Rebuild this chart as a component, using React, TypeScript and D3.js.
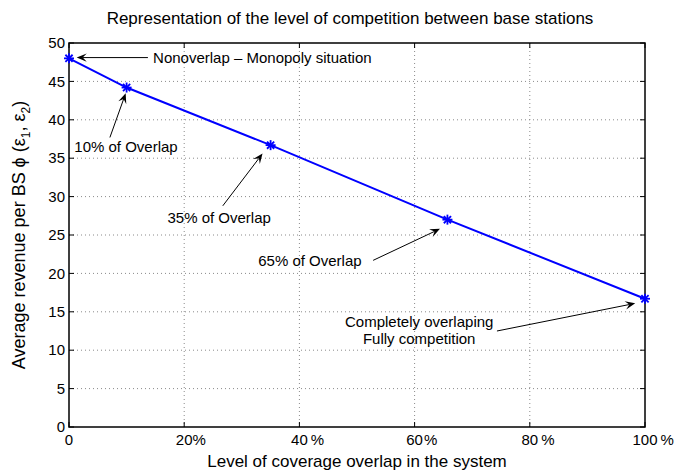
import React from "react";
import * as d3 from "d3";

// ---- data ----
const overlapPct = [0, 10, 35, 65.7, 100];
const revenue = [48, 44.2, 36.7, 27.0, 16.7];

const xTicks = [0, 20, 40, 60, 80, 100];
const xTickGap = [0, 0, 3, 1, 3, 3]; // gap before "%" as seen in the reference
const yTicks = [0, 5, 10, 15, 20, 25, 30, 35, 40, 45, 50];

const titleText = "Representation of the level of competition between base stations";
const xLabelText = "Level of coverage overlap in the system";

// annotation texts (data coords)
const annoTexts = ["Nonoverlap \u2013 Monopoly situation", "10% of Overlap", "35% of Overlap", "65% of Overlap", "Completely overlaping", "Fully competition"];
const annoTextX = [14.6, 0.92, 17.1, 50.8, 60.8, 60.8];
const annoTextY = [48.1, 36.5, 27.3, 21.6, 13.7, 11.55];
const annoAnchor = ["start", "start", "start", "end", "middle", "middle"];

// arrows: tail -> head (data coords)
const arrowTailX = [13.7, 7.1, 26.7, 52.8, 74.3];
const arrowTailY = [48.1, 37.7, 28.8, 21.7, 12.5];
const arrowHeadX = [1.34, 9.84, 33.6, 64.4, 98.3];
const arrowHeadY = [48.1, 43.45, 35.6, 25.8, 16.1];

const W = 676;
const H = 471;
const L = 69, R = 645, T = 43, B = 427;
const FS = 15;
const FONT = "'Liberation Sans', Arial, Helvetica, sans-serif";

export default function App() {
  const x = d3.scaleLinear().domain([0, 100]).range([L, R]);
  const y = d3.scaleLinear().domain([0, 50]).range([B, T]);
  const line = d3.line<number>().x((_, i) => x(overlapPct[i])).y((d) => y(d));

  const arrowHead = (i: number) => {
    const x1 = x(arrowTailX[i]), y1 = y(arrowTailY[i]);
    const x2 = x(arrowHeadX[i]), y2 = y(arrowHeadY[i]);
    const ang = Math.atan2(y2 - y1, x2 - x1);
    const len = 10, hw = 4.2, notch = 6;
    const ca = Math.cos(ang), sa = Math.sin(ang);
    const pt = (a: number, b: number) => [x2 + a * ca - b * sa, y2 + a * sa + b * ca];
    const p1 = pt(-len, hw), p2 = pt(-notch, 0), p3 = pt(-len, -hw);
    return {
      line: [x1, y1, x2 - notch * ca, y2 - notch * sa],
      head: `M${x2},${y2}L${p1[0]},${p1[1]}L${p2[0]},${p2[1]}L${p3[0]},${p3[1]}Z`,
    };
  };

  return (
    <svg width={W} height={H} style={{ display: "block", position: "absolute", left: 0, top: 0, background: "#fff" }} fontFamily={FONT}>
      <rect x={0} y={0} width={W} height={H} fill="#fff" />
      {/* grid */}
      {xTicks.slice(1, -1).map((t) => (
        <line key={"gx" + t} x1={x(t)} x2={x(t)} y1={T} y2={B} stroke="#8a8a8a" strokeWidth={1} strokeDasharray="1,3" />
      ))}
      {yTicks.slice(1, -1).map((t) => (
        <line key={"gy" + t} x1={L} x2={R} y1={y(t)} y2={y(t)} stroke="#8a8a8a" strokeWidth={1} strokeDasharray="1,3" />
      ))}
      {/* ticks */}
      {xTicks.map((t) => (
        <g key={"tx" + t}>
          <line x1={x(t)} x2={x(t)} y1={B} y2={B - 5} stroke="#000" />
          <line x1={x(t)} x2={x(t)} y1={T} y2={T + 5} stroke="#000" />
        </g>
      ))}
      {yTicks.map((t) => (
        <g key={"ty" + t}>
          <line x1={L} x2={L + 5} y1={y(t)} y2={y(t)} stroke="#000" />
          <line x1={R} x2={R - 5} y1={y(t)} y2={y(t)} stroke="#000" />
        </g>
      ))}
      {/* box */}
      <rect x={L} y={T} width={R - L} height={B - T} fill="none" stroke="#000" strokeWidth={1.5} />
      {/* tick labels */}
      {yTicks.map((t) => (
        <text key={"ly" + t} x={L - 4} y={y(t)} dy="0.35em" textAnchor="end" fontSize={FS}>{t}</text>
      ))}
      {xTicks.map((t, i) => {
        const s = String(t);
        const nw = s.length * 0.556 * FS;
        const x0 = x(t) - nw / 2;
        return (
          <text key={"lx" + t} x={x0} y={B + 18} fontSize={FS}>
            {s}
            {t > 0 ? <tspan dx={xTickGap[i]}>%</tspan> : null}
          </text>
        );
      })}
      {/* data line */}
      <path d={line(revenue) || ""} fill="none" stroke="#0000ff" strokeWidth={2} />
      {revenue.map((v, i) => {
        const cx = x(overlapPct[i]), cy = y(v), r = 5, d = r * 0.72;
        return (
          <g key={"m" + i} stroke="#0000ff" strokeWidth={1.8}>
            <line x1={cx - r} x2={cx + r} y1={cy} y2={cy} />
            <line x1={cx} x2={cx} y1={cy - r} y2={cy + r} />
            <line x1={cx - d} x2={cx + d} y1={cy - d} y2={cy + d} />
            <line x1={cx - d} x2={cx + d} y1={cy + d} y2={cy - d} />
          </g>
        );
      })}
      {/* annotations */}
      {arrowTailX.map((_, i) => {
        const a = arrowHead(i);
        return (
          <g key={"ar" + i}>
            <line x1={a.line[0]} y1={a.line[1]} x2={a.line[2]} y2={a.line[3]} stroke="#000" strokeWidth={1} />
            <path d={a.head} fill="#000" />
          </g>
        );
      })}
      {annoTexts.map((s, i) => (
        <text key={"at" + i} x={x(annoTextX[i])} y={y(annoTextY[i])} dy="0.35em" textAnchor={annoAnchor[i] as any} fontSize={FS}>{s}</text>
      ))}
      {/* title & labels */}
      <text x={350} y={24} textAnchor="middle" fontSize={17}>{titleText}</text>
      <text x={(L + R) / 2} y={467} textAnchor="middle" fontSize={17}>{xLabelText}</text>
      <text transform={`translate(25,${(T + B) / 2}) rotate(-90)`} textAnchor="middle" fontSize={18}>
        Average revenue per BS <tspan>{"\u03D5"}</tspan> (ε<tspan dy={5} fontSize={12}>1</tspan>
        <tspan dy={-5}>, ε</tspan><tspan dy={5} fontSize={12}>2</tspan><tspan dy={-5}>)</tspan>
      </text>
    </svg>
  );
}
